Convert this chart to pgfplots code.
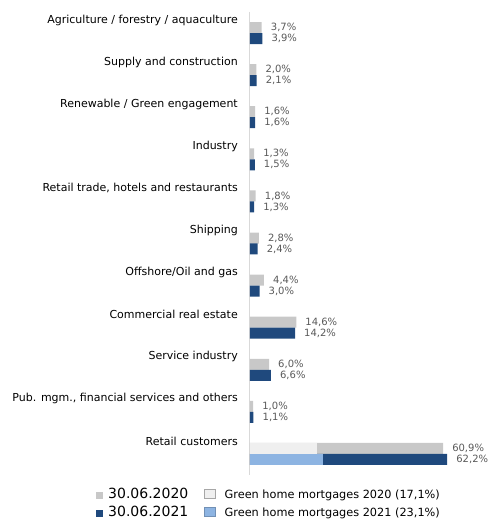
\documentclass[border=0pt]{standalone}
\usepackage{pgfplots}
\usepackage{pgfplotstable}
\pgfplotsset{compat=1.18}
\usepackage{fontspec}
\setmainfont{DejaVu Sans}
\definecolor{c2020}{HTML}{C8C8C8}
\definecolor{c2021}{HTML}{1F497D}
\definecolor{cg20}{HTML}{EFEFEF}
\definecolor{cg21}{HTML}{8DB4E2}
\definecolor{axgray}{HTML}{D9D9D9}
\definecolor{valtxt}{HTML}{595959}
\definecolor{boxgray}{HTML}{A6A6A6}
\pgfplotstableread{
idx v2020 v2021
0 3.7 3.9
1 2.0 2.1
2 1.6 1.6
3 1.3 1.5
4 1.8 1.3
5 2.8 2.4
6 4.4 3.0
7 14.6 14.2
8 6.0 6.6
9 1.0 1.1
10 60.9 62.2
}\datatable
\begin{document}
\begin{tikzpicture}
\begin{axis}[
  name=ax,
  scale only axis, width=238pt, height=463pt,
  xmin=0, xmax=75.08, ymin=-0.5, ymax=10.5, y dir=reverse,
  xbar, bar width=11pt, bar shift=0pt,
  axis x line=none, axis y line*=left,
  y axis line style={draw=axgray, line width=1pt, -},
  ytick={-0.309,0.691,1.691,2.691,3.691,4.691,5.691,6.691,7.691,8.691,9.691},
  yticklabels={Agriculture / forestry / aquaculture, Supply and construction, Renewable / Green engagement, Industry, {Retail trade, hotels and restaurants}, Shipping, Offshore/Oil and gas, Commercial real estate, Service industry, {Pub. mgm., financial services and others}, Retail customers},
  major tick length=0pt,
  yticklabel style={font=\fontsize{11}{13}\selectfont, anchor=east, inner sep=0pt, xshift=-12pt},
  clip=false,
  every node near coord/.append style={anchor=west, inner sep=0pt, xshift=9pt, font=\fontsize{10}{11}\selectfont, text=valtxt},
  nodes near coords={\pgfmathprintnumber[fixed, fixed zerofill, precision=1, use comma, assume math mode=true]{\pgfplotspointmeta}\%},
  legend columns=2, transpose legend,
  legend style={at={(axis description cs:0,0)}, anchor=north west, xshift=-154pt, yshift=-13pt, draw=none, fill=none, inner sep=0pt, column sep=5pt, /tikz/every even column/.append style={column sep=16pt}, nodes={inner sep=0pt, text height=10pt, text depth=3pt}, row sep=5pt},
  legend cell align=left,
]
\addplot[fill=c2020, draw=none, point meta=x, legend image code/.code={\fill[c2020] (0pt,-4pt) rectangle (7pt,3pt);}]
  table[x=v2020, y expr=\thisrow{idx}-0.1306]{\datatable};
\addplot[fill=c2021, draw=none, point meta=x, legend image code/.code={\fill[c2021] (0pt,-4pt) rectangle (7pt,3pt);}]
  table[x=v2021, y expr=\thisrow{idx}+0.1306]{\datatable};
\addplot[fill=cg20, draw=none, nodes near coords=\empty, legend image code/.code={\filldraw[fill=cg20, draw=boxgray, line width=0.6pt] (0pt,-3.5pt) rectangle (11pt,5.5pt); \path (15pt,0pt);}]
  coordinates {(21.0,9.8694)};
\addplot[fill=cg21, draw=none, nodes near coords=\empty, legend image code/.code={\filldraw[fill=cg21, draw=cg21!80!black, line width=0.6pt] (0pt,-3.5pt) rectangle (11pt,5.5pt); \path (15pt,0pt);}]
  coordinates {(23.1,10.1306)};
\legend{{\fontsize{14}{16}\selectfont 30.06.2020},{\fontsize{14}{16}\selectfont 30.06.2021},{\fontsize{11.3}{13}\selectfont Green home mortgages 2020 (17,1\%)},{\fontsize{11.3}{13}\selectfont Green home mortgages 2021 (23,1\%)}}
\end{axis}
\path (ax.south west) ++(-250pt,-46pt) rectangle ++(488pt,521pt);
\end{tikzpicture}
\end{document}
